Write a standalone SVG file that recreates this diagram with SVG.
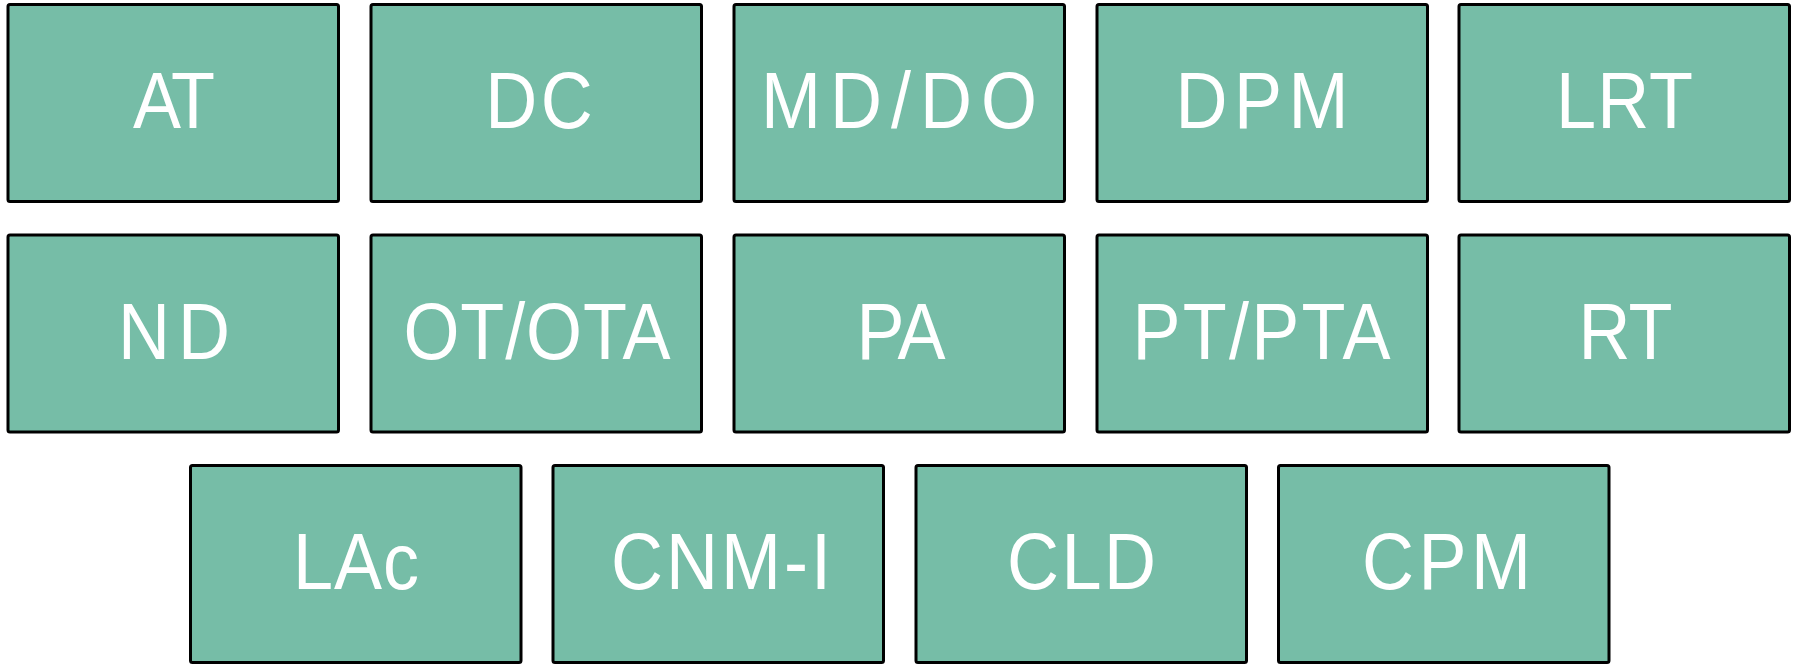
<svg xmlns="http://www.w3.org/2000/svg" width="1797" height="671" viewBox="0 0 1797 671">
<style>
.box{fill:#76BDA7;stroke:#000;stroke-width:3;}
.lbl{fill:#fff;font-family:"Liberation Sans",Arial,sans-serif;font-size:80px;text-anchor:middle;}
</style>
<rect width="1797" height="671" fill="#fff"/>
<g id="connectors"></g>
<g id="AT"><rect class="box" x="8" y="4.5" width="330.5" height="197" rx="2"/><text class="lbl" transform="matrix(0.9 0 0 1 174 128)" x="0" y="0" textLength="91.1" lengthAdjust="spacing">AT</text></g>
<g id="DC"><rect class="box" x="371" y="4.5" width="330.5" height="197" rx="2"/><text class="lbl" transform="matrix(0.9 0 0 1 539 128)" x="0" y="0" textLength="119.4" lengthAdjust="spacing">DC</text></g>
<g id="MDDO"><rect class="box" x="734" y="4.5" width="330.5" height="197" rx="2"/><text class="lbl" transform="matrix(0.9 0 0 1 899 128)" x="0" y="0" textLength="306.7" lengthAdjust="spacing">MD/DO</text></g>
<g id="DPM"><rect class="box" x="1097" y="4.5" width="330.5" height="197" rx="2"/><text class="lbl" transform="matrix(0.9 0 0 1 1262 128)" x="0" y="0" textLength="192.2" lengthAdjust="spacing">DPM</text></g>
<g id="LRT"><rect class="box" x="1459" y="4.5" width="330.5" height="197" rx="2"/><text class="lbl" transform="matrix(0.9 0 0 1 1624.5 128)" x="0" y="0" textLength="152.2" lengthAdjust="spacing">LRT</text></g>
<g id="ND"><rect class="box" x="8" y="235" width="330.5" height="197" rx="2"/><text class="lbl" transform="matrix(0.9 0 0 1 174 358.5)" x="0" y="0" textLength="124.4" lengthAdjust="spacing">ND</text></g>
<g id="OTOTA"><rect class="box" x="371" y="235" width="330.5" height="197" rx="2"/><text class="lbl" transform="matrix(0.9 0 0 1 537 358.5)" x="0" y="0" textLength="296.7" lengthAdjust="spacing">OT/OTA</text></g>
<g id="PA"><rect class="box" x="734" y="235" width="330.5" height="197" rx="2"/><text class="lbl" transform="matrix(0.9 0 0 1 901 358.5)" x="0" y="0" textLength="98.9" lengthAdjust="spacing">PA</text></g>
<g id="PTPTA"><rect class="box" x="1097" y="235" width="330.5" height="197" rx="2"/><text class="lbl" transform="matrix(0.9 0 0 1 1261.5 358.5)" x="0" y="0" textLength="286.7" lengthAdjust="spacing">PT/PTA</text></g>
<g id="RT"><rect class="box" x="1459" y="235" width="330.5" height="197" rx="2"/><text class="lbl" transform="matrix(0.9 0 0 1 1625.5 358.5)" x="0" y="0" textLength="104.4" lengthAdjust="spacing">RT</text></g>
<g id="LAc"><rect class="box" x="190.5" y="465.5" width="330.5" height="197" rx="2"/><text class="lbl" transform="matrix(0.9 0 0 1 356 589)" x="0" y="0" textLength="140" lengthAdjust="spacing">LAc</text></g>
<g id="CNM-I"><rect class="box" x="553" y="465.5" width="330.5" height="197" rx="2"/><text class="lbl" transform="matrix(0.9 0 0 1 721 589)" x="0" y="0" textLength="244.4" lengthAdjust="spacing">CNM-I</text></g>
<g id="CLD"><rect class="box" x="916" y="465.5" width="330.5" height="197" rx="2"/><text class="lbl" transform="matrix(0.9 0 0 1 1081.5 589)" x="0" y="0" textLength="165.6" lengthAdjust="spacing">CLD</text></g>
<g id="CPM"><rect class="box" x="1278.5" y="465.5" width="330.5" height="197" rx="2"/><text class="lbl" transform="matrix(0.9 0 0 1 1446.5 589)" x="0" y="0" textLength="187.8" lengthAdjust="spacing">CPM</text></g>
</svg>
